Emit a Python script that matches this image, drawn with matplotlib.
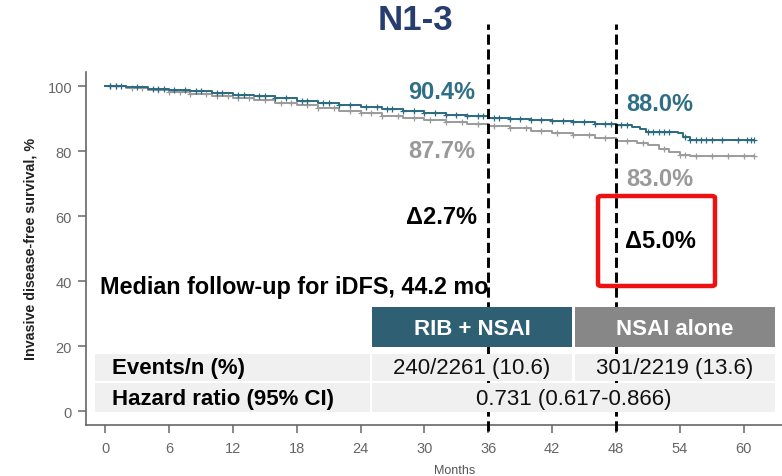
import numpy as np
import matplotlib.pyplot as plt
from matplotlib.patches import Rectangle, FancyBboxPatch

# ── data ──────────────────────────────────────────────────
months_rib = [0, 2, 4, 6, 8, 10, 12, 14, 16, 18, 20, 22, 24, 26, 28, 30, 32, 34, 36,
              38, 40, 42, 44, 46, 48, 49.5, 50.3, 50.8, 53.8, 54.3, 55, 61]
surv_rib = [100, 99.7, 99.3, 98.9, 98.5, 97.9, 97.4, 96.9, 96.3, 95.6, 94.9, 94.3, 93.6,
            93.0, 92.3, 91.8, 91.3, 90.8, 90.4, 90.0, 89.6, 89.2, 88.9, 88.5, 88.0, 87.6,
            86.8, 86.0, 85.6, 84.5, 83.6, 83.6]
cens_rib = [0.5, 1, 1.5, 3, 4.5, 5, 5.5, 6.5, 7.5, 8.5, 9, 10.5, 11, 12.5, 13, 14.5, 15,
            16, 17, 18.5, 19, 20.5, 21, 22, 23, 24.5, 25.5, 26.5, 27, 28, 29, 30, 31, 32,
            33, 34, 35, 35.5, 36.5, 37, 38, 39, 40, 41, 42, 43, 44, 45, 46, 47, 47.5, 48.5,
            49, 51, 51.5, 52, 52.5, 53, 54.5, 55, 55.5, 56, 56.5, 57, 58, 59.5, 60.3, 60.7, 61]

months_nsai = [0, 2, 4, 6, 8, 10, 12, 14, 16, 18, 20, 22, 24, 26, 28, 30, 32, 34, 36,
               38, 40, 42, 44, 46, 48, 50, 51, 52, 53, 54, 55, 61]
surv_nsai = [100, 99.5, 99.0, 98.4, 97.7, 97.1, 96.5, 95.8, 95.0, 94.1, 93.3, 92.5, 91.7,
             91.0, 90.3, 89.6, 88.9, 88.3, 87.7, 87.1, 86.4, 85.7, 85.0, 84.2, 83.3, 82.6,
             81.8, 80.8, 79.8, 79.0, 78.6, 78.6]
cens_nsai = [0.5, 1, 2.5, 3.5, 5, 6, 7, 8, 9.5, 10.5, 11.5, 12.5, 13.5, 15, 16.5, 17.5,
             19, 20, 21.5, 23, 24, 25, 26, 27.5, 29, 30.5, 32, 33.5, 35, 36.5, 38, 39.5,
             41, 42.5, 44, 45.5, 47, 49, 50.5, 52.5, 54, 54.5, 55.5, 57, 58.5, 60, 61]

landmarks = [36, 48]
rate_rib = [90.4, 88.0]
rate_nsai = [87.7, 83.0]
x_ticks = list(range(0, 61, 6))
y_ticks = [0, 20, 40, 60, 80, 100]

header = ['RIB + NSAI', 'NSAI alone']
row_labels = ['Events/n (%)', 'Hazard ratio (95% CI)']
events = ['240/2261 (10.6)', '301/2219 (13.6)']
hazard = '0.731 (0.617-0.866)'

# ── style ────────────────────────────────────────────
plt.rcParams['font.family'] = ['Liberation Sans', 'DejaVu Sans']
TEAL, GREY = '#2b6a7f', '#9b9b9b'
TEAL_TXT, GREY_TXT = '#2f6f86', '#999999'
W, H = 782, 477

fig = plt.figure(figsize=(W/100, H/100), dpi=100)

def px(x, y):                       # pixel -> figure fraction
    return x/W, 1 - y/H

ax = fig.add_axes([86/W, (H-425.7)/H, 1-86/W, (425.7-73)/H])
ax.set_xlim(-1.8, 63.6)
ax.set_ylim(-4.1, 104.4)

def km(ax, t, s, cens, col):
    ax.plot(t, s, drawstyle='steps-post', color=col, lw=1.4, zorder=3)
    idx = np.searchsorted(t, cens, side='right') - 1
    ax.plot(cens, np.array(s)[idx], '+', color=col, ms=4.5, mew=0.9, zorder=3)

km(ax, months_nsai, surv_nsai, cens_nsai, GREY)
km(ax, months_rib, surv_rib, cens_rib, TEAL)

for lm in landmarks:
    ax.plot([lm, lm], [-6.1, 119.2], color='black', lw=2.1, dashes=(3.5, 1.6),
            clip_on=False, zorder=4)

ax.set_xticks(x_ticks)
ax.set_yticks(y_ticks)
ax.tick_params(colors='#666666', labelsize=10.5, length=6, width=1.1, pad=4)
ax.tick_params(axis='x', pad=6)
for sp in ['top', 'right']:
    ax.spines[sp].set_visible(False)
for sp in ['left', 'bottom']:
    ax.spines[sp].set_color('#666666')
    ax.spines[sp].set_linewidth(1.2)
ax.set_ylabel('Invasive disease-free survival, %', fontsize=10.3, fontweight='bold',
              color='#222222', labelpad=7)

# ── landmark annotations ──────────────────────────────
lbl_x = [442, 660]
rib_y = [93, 105]
nsai_y = [151, 180]
delta_y = [217, 241]
for i in range(2):
    fig.text(*px(lbl_x[i], rib_y[i]), f'{rate_rib[i]:.1f}%', color=TEAL_TXT,
             fontsize=17, fontweight='bold', ha='center', va='center')
    fig.text(*px(lbl_x[i], nsai_y[i]), f'{rate_nsai[i]:.1f}%', color=GREY_TXT,
             fontsize=17, fontweight='bold', ha='center', va='center')
    fig.text(*px(lbl_x[i], delta_y[i]), f'\u0394{rate_rib[i]-rate_nsai[i]:.1f}%',
             color='black', fontsize=17, fontweight='bold', ha='center', va='center')

box = FancyBboxPatch(px(598, 287), 117/W, 90/H, boxstyle='round,pad=0,rounding_size=0.004',
                     transform=fig.transFigure, fill=False, ec='#ee1111', lw=3.2, zorder=10)
fig.patches.append(box)

fig.text(*px(100, 294), 'Median follow-up for iDFS, 44.2 mo', fontsize=16.8,
         fontweight='bold', ha='left', va='baseline')

fig.text(*px(415, 20), 'N1-3', color='#263d6e', fontsize=25, fontweight='bold',
         ha='center', va='center')
fig.text(*px(455, 477), 'Months', color='#555555', fontsize=9, ha='center', va='bottom')

# ── table ──────────────────────────────────────────────
def cell(x0, y0, x1, y1, fc):
    r = Rectangle(px(x0, y1), (x1-x0)/W, (y1-y0)/H, transform=fig.transFigure,
                  fc=fc, ec='none', zorder=6)
    fig.patches.append(r)

cell(372, 307.7, 572.3, 347.7, '#2e5f72')
cell(574.5, 307.7, 775, 347.7, '#878787')
cell(95, 355, 370, 381.7, '#f0f0f0')
cell(372, 355, 572.3, 381.7, '#f0f0f0')
cell(574.5, 355, 775, 381.7, '#f0f0f0')
cell(95, 384, 370, 413, '#f0f0f0')
cell(372, 384, 775, 413, '#f0f0f0')

col_x = [472, 674.5]
for i in range(2):
    fig.text(*px(col_x[i], 329.5), header[i], color='white', fontsize=16,
             fontweight='bold', ha='center', va='center', zorder=7)
    fig.text(*px(col_x[i], 368.5), events[i], color='#111111', fontsize=16,
             ha='center', va='center', zorder=7)
fig.text(*px(111.7, 368.5), row_labels[0], fontsize=16, fontweight='bold',
         ha='left', va='center', zorder=7)
fig.text(*px(111.7, 399.5), row_labels[1], fontsize=16, fontweight='bold',
         ha='left', va='center', zorder=7)
fig.text(*px(574, 399.5), hazard, color='#111111', fontsize=16, ha='center',
         va='center', zorder=7)

fig.savefig('out.png', dpi=100)
